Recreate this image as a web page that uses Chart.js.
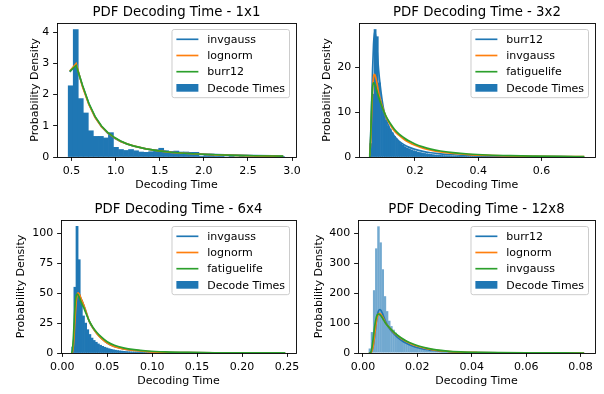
<!DOCTYPE html>
<html>
<head>
<meta charset="utf-8">
<script src="https://cdn.jsdelivr.net/npm/chart.js@4.4.1/dist/chart.umd.min.js"></script>
<style>
  html, body { margin: 0; padding: 0; background: #fff; }
  #fig { position: relative; width: 604px; height: 394px; }
  #fig canvas { position: absolute; }
</style>
</head>
<body>
<div id="fig">
  <canvas id="c1" width="302" height="197" style="left:0;top:0"></canvas>
  <canvas id="c2" width="302" height="197" style="left:302px;top:0"></canvas>
  <canvas id="c3" width="302" height="197" style="left:0;top:197px"></canvas>
  <canvas id="c4" width="302" height="197" style="left:302px;top:197px"></canvas>
</div>
<script>
// ---- panel 1: 1x1 ----
var p1BinStart = 0.462, p1BinWidth = 0.057;
var p1Density = [2.28, 4.08, 1.87, 1.41, 0.84, 0.66, 0.66, 0.61, 0.78, 0.31, 0.24, 0.21, 0.24, 0.2, 0.16,
  0.15, 0.17, 0.23, 0.28, 0.2, 0.18, 0.19, 0.16, 0.16, 0.15, 0.15, 0.03, 0.05, 0.09, 0.02, 0.02, 0, 0.02,
  0, 0.02, 0, 0, 0.02, 0, 0, 0, 0, 0.02];
var p1X = [0.48, 0.552, 0.624, 0.696, 0.768, 0.84, 0.912, 0.984, 1.056, 1.128, 1.2, 1.344, 1.488, 1.632,
  1.776, 1.92, 2.136, 2.352, 2.568, 2.784, 2.9];
var p1Invgauss = [2.72, 2.96, 2.28, 1.7, 1.27, 0.97, 0.76, 0.61, 0.5, 0.415, 0.35, 0.26, 0.2, 0.157, 0.127,
  0.104, 0.078, 0.059, 0.045, 0.035, 0.03];
var p1Lognorm = [2.75, 2.99, 2.25, 1.68, 1.26, 0.97, 0.77, 0.62, 0.5, 0.42, 0.355, 0.26, 0.195, 0.15, 0.12,
  0.095, 0.068, 0.05, 0.037, 0.028, 0.024];
var p1Burr12 = [2.74, 2.93, 2.3, 1.72, 1.29, 0.99, 0.78, 0.63, 0.51, 0.42, 0.355, 0.26, 0.196, 0.152, 0.12,
  0.097, 0.071, 0.053, 0.04, 0.031, 0.027];
var p1XTicks = [0.5, 1.0, 1.5, 2.0, 2.5, 3.0];
var p1XLabels = ['0.5', '1.0', '1.5', '2.0', '2.5', '3.0'];
var p1YTicks = [0, 1, 2, 3, 4];
var p1YLabels = ['0', '1', '2', '3', '4'];

// ---- panel 2: 3x2 ----
var p2BinStart = 0.057, p2BinWidth = 0.00678;
var p2Density = [3, 14, 28.4, 26.8, 16.5, 12.5, 10, 8.3, 7, 6.2, 5.4, 4.6, 4.0, 3.5, 3.0, 2.6, 2.3, 2.0, 1.8,
  1.6, 1.4, 1.25, 1.1, 1.0, 0.9, 0.8, 0.72, 0.65, 0.58, 0.52, 0.47, 0.42, 0.38, 0.34, 0.31, 0.28, 0.26, 0.24,
  0.22, 0.2, 0.18, 0.17, 0.15, 0.14, 0.13, 0.12, 0.11, 0.1, 0.09, 0.09, 0.08, 0.08, 0.07, 0.07, 0.06, 0.06,
  0.05, 0.05, 0.05, 0.04, 0.04, 0.04, 0.03, 0.03, 0.03, 0.03, 0.03, 0.02, 0.02, 0.02];
var p2X = [0.057, 0.06, 0.063, 0.066, 0.069, 0.072, 0.075, 0.08, 0.085, 0.09, 0.1, 0.11, 0.12, 0.135, 0.15,
  0.165, 0.18, 0.2, 0.225, 0.25, 0.28, 0.32, 0.37, 0.43, 0.5, 0.58, 0.66, 0.735];
var p2Burr12 = [0.5, 5, 12, 19.5, 25, 27.8, 27.3, 24, 19.5, 16, 11, 8.2, 6.4, 4.6, 3.5, 2.75, 2.2, 1.7, 1.25,
  0.95, 0.7, 0.5, 0.34, 0.23, 0.15, 0.1, 0.07, 0.05];
var p2Invgauss = [0.3, 3.5, 9.5, 15, 17.8, 18.4, 18, 16.4, 14.4, 12.8, 10.6, 8.7, 7.4, 5.8, 4.8, 3.95, 3.3,
  2.6, 1.95, 1.5, 1.12, 0.8, 0.54, 0.36, 0.23, 0.15, 0.1, 0.07];
var p2Fatiguelife = [0, 4.5, 11.5, 15.5, 16.5, 16.3, 15.7, 14.6, 13.4, 12.3, 10.4, 8.9, 7.7, 6.2, 5.1, 4.3,
  3.6, 2.9, 2.25, 1.75, 1.33, 0.97, 0.67, 0.45, 0.3, 0.2, 0.13, 0.09];
var p2XTicks = [0.2, 0.4, 0.6];
var p2XLabels = ['0.2', '0.4', '0.6'];
var p2YTicks = [0, 10, 20];
var p2YLabels = ['0', '10', '20'];

// ---- panel 3: 6x4 ----
var p3BinStart = 0.0105, p3BinWidth = 0.002375;
var p3Density = [5, 55, 105.9, 78, 44, 31, 25, 19.5, 15.5, 12.5, 10.5, 9, 7.6, 6.5, 5.6, 4.8, 4.2, 3.6, 3.1,
  2.7, 2.35, 2.05, 1.8, 1.6, 1.4, 1.25, 1.1, 1.0, 0.9, 0.8, 0.72, 0.65, 0.58, 0.52, 0.47, 0.42, 0.38, 0.34,
  0.31, 0.28, 0.25, 0.23, 0.21, 0.19, 0.17, 0.16, 0.14, 0.13, 0.12, 0.11, 0.1];
var p3X = [0.0105, 0.0115, 0.0125, 0.0135, 0.0145, 0.0155, 0.0165, 0.0175, 0.019, 0.021, 0.0235, 0.0265,
  0.03, 0.034, 0.0385, 0.044, 0.05, 0.058, 0.068, 0.08, 0.095, 0.115, 0.14, 0.17, 0.21, 0.248];
var p3Invgauss = [0, 1.5, 8, 20, 33, 43, 48.5, 50.2, 49, 45.2, 40.8, 34.3, 26.5, 21, 16.3, 12, 8.4, 5.4,
  3.5, 2.2, 1.25, 0.62, 0.28, 0.12, 0.045, 0.02];
var p3Lognorm = [0, 1.2, 7, 19, 32, 42.5, 48.5, 50.4, 49.2, 45.3, 41, 34.5, 26.6, 21, 16.2, 11.9, 8.3, 5.3,
  3.4, 2.15, 1.2, 0.6, 0.27, 0.11, 0.04, 0.02];
var p3Fatiguelife = [0, 4, 15, 30, 42, 48, 49.3, 48.6, 46.5, 42.5, 38.5, 33, 26.8, 21.6, 17.2, 13, 9.4, 6.4,
  4.3, 2.8, 1.7, 0.95, 0.5, 0.24, 0.1, 0.04];
var p3XTicks = [0, 0.05, 0.10, 0.15, 0.20, 0.25];
var p3XLabels = ['0.00', '0.05', '0.10', '0.15', '0.20', '0.25'];
var p3YTicks = [0, 25, 50, 75, 100];
var p3YLabels = ['0', '25', '50', '75', '100'];

// ---- panel 4: 12x8 ----
var p4BinStart = 0.00216, p4BinWidth = 0.000792;
var p4Density = [15, 70, 210, 350, 423.7, 370, 280, 190, 140, 108, 90, 78, 68, 60, 52, 46, 41, 37, 32, 28, 24,
  20, 17, 15, 13, 11, 9.5, 8.2, 7.1, 6.1, 5.3, 4.6, 4.0, 3.5, 3.0, 2.6, 2.3, 2.0, 1.7, 1.5, 1.3, 1.1, 1.0,
  0.9, 0.8, 0.7, 0.6, 0.55, 0.5, 0.45, 0.4];
var p4X = [0.0022, 0.0026, 0.003, 0.0034, 0.0038, 0.0042, 0.0046, 0.005, 0.0054, 0.0058, 0.0062, 0.0066,
  0.0071, 0.0077, 0.0084, 0.0092, 0.0101, 0.0112, 0.0125, 0.014, 0.0158, 0.018, 0.0205, 0.0235, 0.027,
  0.031, 0.036, 0.042, 0.05, 0.06, 0.07, 0.0813];
var p4Burr12 = [0, 0.5, 3, 10, 25, 48, 78, 108, 130, 142, 145.5, 143, 134, 120, 104, 90, 78, 66, 54, 43.5,
  33.5, 24.5, 17.3, 11.5, 7.2, 4.4, 2.6, 1.5, 0.75, 0.3, 0.13, 0.05];
var p4Lognorm = [0, 0, 1, 8, 24, 52, 82, 108, 124, 131.5, 132, 129, 122, 112, 100, 90, 81, 70, 59.5, 49, 39,
  29.5, 21.5, 14.8, 9, 5.6, 3.2, 1.8, 0.9, 0.35, 0.15, 0.06];
var p4Invgauss = [0, 0, 4, 22, 50, 80, 104, 121, 129.5, 130.5, 128.5, 124.5, 118, 109, 99, 90, 81.5, 71.5,
  61, 51, 41, 31.5, 23.5, 16.5, 10.5, 6.5, 3.9, 2.2, 1.1, 0.45, 0.19, 0.07];
var p4XTicks = [0, 0.02, 0.04, 0.06, 0.08];
var p4XLabels = ['0.00', '0.02', '0.04', '0.06', '0.08'];
var p4YTicks = [0, 100, 200, 300, 400];
var p4YLabels = ['0', '100', '200', '300', '400'];

var blue = '#1f77b4', orange = '#ff7f0e', green = '#2ca02c';

Chart.defaults.font.family = "'DejaVu Sans', sans-serif";
Chart.defaults.font.size = 11;
Chart.defaults.color = '#000';

// axes frame + matplotlib style legend, drawn over the data
var mplFrame = {
    id: 'mplFrame',
    afterDraw: function(chart) {
        var ctx = chart.ctx, a = chart.chartArea;
        ctx.save();
        ctx.strokeStyle = '#000';
        ctx.lineWidth = 0.9;
        var l = Math.floor(a.left) + 0.5, t = Math.floor(a.top) + 0.5,
            r = Math.floor(a.right) + 0.5, b = Math.floor(a.bottom) + 0.5;
        ctx.strokeRect(l, t, r - l, b - t);

        var items = chart.data.datasets;
        var fs = 11, pad = 4.4, hl = 22, htp = 8.8, row = 16.2, edge = 9.8;
        ctx.font = fs + "px 'DejaVu Sans'";
        var tw = 0;
        items.forEach(function(d) { tw = Math.max(tw, ctx.measureText(d.label).width); });
        var w = pad + hl + htp + tw + pad;
        var h = 2 * edge + (items.length - 1) * row;
        var x0 = a.right - 6.5 - w, y0 = a.top + 6.5;
        ctx.beginPath();
        ctx.roundRect(x0, y0, w, h, 2.2);
        ctx.fillStyle = 'rgba(255,255,255,0.8)';
        ctx.fill();
        ctx.strokeStyle = '#cccccc';
        ctx.lineWidth = 1;
        ctx.stroke();
        items.forEach(function(d, i) {
            var cy = y0 + edge + i * row;
            if (d.type === 'bar') {
                ctx.fillStyle = blue;
                ctx.fillRect(x0 + pad, cy - 3.9, hl, 7.7);
            } else {
                ctx.strokeStyle = d.borderColor;
                ctx.lineWidth = 1.67;
                ctx.beginPath();
                ctx.moveTo(x0 + pad, cy);
                ctx.lineTo(x0 + pad + hl, cy);
                ctx.stroke();
            }
            ctx.fillStyle = '#000';
            ctx.textBaseline = 'alphabetic';
            ctx.fillText(d.label, x0 + pad + hl + htp, cy + 3.6);
        });
        ctx.restore();
    }
};

function pairs(xs, ys) {
    return xs.map(function(x, i) { return {x: x, y: ys[i]}; });
}

function histPoints(start, width, dens) {
    return dens.map(function(v, i) { return {x: start + width * (i + 0.5), y: v}; });
}

function makePanel(id, p) {
    var datasets = p.lines.map(function(l, i) {
        return {
            type: 'line', label: l.label, data: pairs(p.x, l.y),
            borderColor: l.color, borderWidth: 1.67, pointRadius: 0, fill: false,
            tension: 0, cubicInterpolationMode: p.smooth ? 'monotone' : 'default',
            order: p.lines.length - i
        };
    });
    datasets.push({
        type: 'bar', label: 'Decode Times', data: histPoints(p.binStart, p.binWidth, p.density),
        backgroundColor: p.barColor, borderWidth: 0, barPercentage: 1,
        categoryPercentage: p.barOverlap || 1, order: 10
    });
    var tickGrid = {display: true, drawOnChartArea: false, drawTicks: true, tickLength: 3.9,
        color: '#000', lineWidth: 0.9, offset: false};
    return new Chart(document.getElementById(id), {
        type: 'bar',
        data: {datasets: datasets},
        options: {
            responsive: false,
            animation: false,
            events: [],
            layout: {padding: {left: 0, top: 0, right: 302 - p.box.right, bottom: 0}},
            plugins: {
                legend: {display: false},
                tooltip: {enabled: false},
                title: {
                    display: true, text: p.title, fullSize: false, color: '#000',
                    font: {size: 13.3, weight: 'normal', lineHeight: 1.2},
                    padding: {top: 5, bottom: p.box.top - 5 - 15.96}
                }
            },
            scales: {
                x: {
                    type: 'linear', min: p.xMin, max: p.xMax, offset: false, bounds: 'data',
                    grid: tickGrid, border: {display: false},
                    afterBuildTicks: function(s) { s.ticks = p.xTicks.map(function(v) { return {value: v}; }); },
                    ticks: {autoSkip: false, maxRotation: 0, padding: 3.9, color: '#000',
                        callback: function(v, i) { return p.xLabels[i]; }},
                    title: {display: true, text: 'Decoding Time', color: '#000',
                        padding: {top: 0, bottom: 197 - (p.box.bottom + 27.7) - 6.6}},
                    afterFit: function(s) { s.height = 197 - p.box.bottom; s.paddingLeft = 0; s.paddingRight = 0; }
                },
                y: {
                    type: 'linear', min: 0, max: p.yMax, bounds: 'data',
                    grid: tickGrid, border: {display: false},
                    afterBuildTicks: function(s) { s.ticks = p.yTicks.map(function(v) { return {value: v}; }); },
                    ticks: {autoSkip: false, padding: 3.9, color: '#000',
                        callback: function(v, i) { return p.yLabels[i]; }},
                    title: {display: true, text: 'Probability Density', color: '#000',
                        padding: {top: p.yTitleX - 6.6, bottom: 0}},
                    afterFit: function(s) { s.width = p.box.left; s.paddingTop = 0; s.paddingBottom = 0; }
                }
            }
        },
        plugins: [mplFrame]
    });
}

makePanel('c1', {
    title: 'PDF Decoding Time - 1x1',
    binStart: p1BinStart, binWidth: p1BinWidth, density: p1Density, barColor: blue,
    x: p1X, smooth: false,
    lines: [{label: 'invgauss', color: blue, y: p1Invgauss},
            {label: 'lognorm', color: orange, y: p1Lognorm},
            {label: 'burr12', color: green, y: p1Burr12}],
    xMin: 0.335, xMax: 3.045, yMax: 4.29,
    xTicks: p1XTicks, xLabels: p1XLabels, yTicks: p1YTicks, yLabels: p1YLabels,
    box: {left: 57, right: 296, top: 23, bottom: 157}, yTitleX: 35
});

makePanel('c2', {
    title: 'PDF Decoding Time - 3x2',
    binStart: p2BinStart, binWidth: p2BinWidth, density: p2Density, barColor: blue,
    x: p2X, smooth: true,
    lines: [{label: 'burr12', color: blue, y: p2Burr12},
            {label: 'invgauss', color: orange, y: p2Invgauss},
            {label: 'fatiguelife', color: green, y: p2Fatiguelife}],
    xMin: 0.0231, xMax: 0.7689, yMax: 29.85,
    xTicks: p2XTicks, xLabels: p2XLabels, yTicks: p2YTicks, yLabels: p2YLabels,
    box: {left: 57, right: 293, top: 23, bottom: 157}, yTitleX: 24.7
});

makePanel('c3', {
    title: 'PDF Decoding Time - 6x4',
    binStart: p3BinStart, binWidth: p3BinWidth, density: p3Density, barColor: blue,
    x: p3X, smooth: true,
    lines: [{label: 'invgauss', color: blue, y: p3Invgauss},
            {label: 'lognorm', color: orange, y: p3Lognorm},
            {label: 'fatiguelife', color: green, y: p3Fatiguelife}],
    xMin: -0.0014, xMax: 0.26, yMax: 111.2,
    xTicks: p3XTicks, xLabels: p3XLabels, yTicks: p3YTicks, yLabels: p3YLabels,
    box: {left: 61, right: 296, top: 23, bottom: 156}, yTitleX: 21
});

makePanel('c4', {
    title: 'PDF Decoding Time - 12x8',
    binStart: p4BinStart, binWidth: p4BinWidth, density: p4Density, barColor: '#72a9d0',
    barOverlap: 1.15,
    x: p4X, smooth: true,
    lines: [{label: 'burr12', color: blue, y: p4Burr12},
            {label: 'lognorm', color: orange, y: p4Lognorm},
            {label: 'invgauss', color: green, y: p4Invgauss}],
    xMin: -0.0018, xMax: 0.0853, yMax: 444.9,
    xTicks: p4XTicks, xLabels: p4XLabels, yTicks: p4YTicks, yLabels: p4YLabels,
    box: {left: 56, right: 293, top: 23, bottom: 156}, yTitleX: 17.2
});
</script>
</body>
</html>
